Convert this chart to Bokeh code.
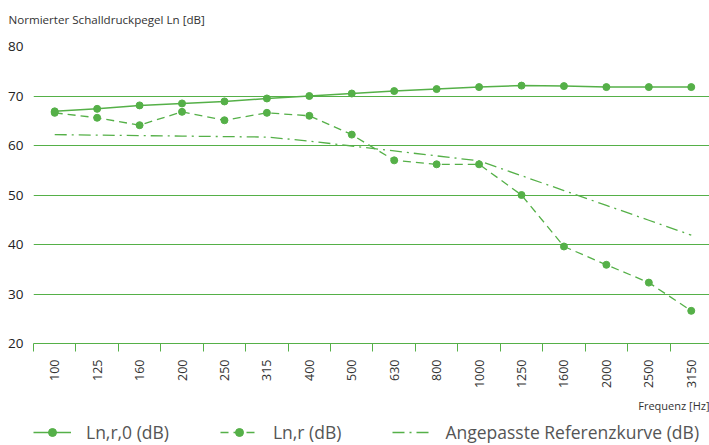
from math import pi
from bokeh.plotting import figure
from bokeh.layouts import column
from bokeh.models import Range1d, FixedTicker, Legend, LegendItem, ColumnDataSource, Title
from bokeh.embed import file_html
from bokeh.resources import INLINE

freqs = ["100", "125", "160", "200", "250", "315", "400", "500", "630", "800",
         "1000", "1250", "1600", "2000", "2500", "3150"]
ln_r0 = [66.9, 67.4, 68.1, 68.5, 68.9, 69.5, 70.0, 70.5, 71.0, 71.4, 71.8, 72.1, 72.0, 71.8, 71.8, 71.8]
ln_r = [66.6, 65.6, 64.1, 66.8, 65.1, 66.6, 66.0, 62.2, 57.0, 56.2, 56.2, 50.0, 39.6, 35.9, 32.3, 26.6]
ref_curve = [62.2, 62.1, 62.0, 61.9, 61.8, 61.7, 60.9, 59.9, 58.9, 57.9, 56.9, 53.9, 50.9, 47.9, 44.9, 41.9]
y_ticks = [20, 30, 40, 50, 60, 70, 80]
series_names = ["Ln,r,0 (dB)", "Ln,r (dB)", "Angepasste Referenzkurve (dB)"]
y_title = "Normierter Schalldruckpegel Ln [dB]"
x_title = "Frequenz [Hz]"

GREEN = "#55b048"
TEXT = "#333333"
FONT = "Open Sans"
W = 709
H_TOP = 28
H_LEG = 28
H_MAIN = 445 - H_TOP - H_LEG


def strip(h, top_border=0):
    f = figure(width=W, height=h, output_backend="svg", toolbar_location=None,
               x_range=Range1d(-1000, -999), y_range=Range1d(-1000, -999),
               x_axis_location=None, y_axis_location=None,
               min_border=0, min_border_left=0, min_border_right=0,
               min_border_top=top_border, min_border_bottom=0)
    f.outline_line_color = None
    f.grid.visible = False
    return f


xs = [i + 0.5 for i in range(len(freqs))]
src = ColumnDataSource(dict(x=xs, r0=ln_r0, r=ln_r, ref=ref_curve))

# title strip
top = strip(H_TOP, top_border=26)
top.title.text = y_title
top.title.align = "left"
top.title.offset = -25
top.title.standoff = 0
top.title.vertical_align = "bottom"
top.title.text_font = FONT
top.title.text_font_size = "11.6px"
top.title.text_font_style = "normal"
top.title.text_color = TEXT

p = figure(width=W, height=H_MAIN, output_backend="svg", toolbar_location=None,
           x_range=Range1d(0, 15.93), y_range=Range1d(20, 80),
           min_border_left=33, min_border_right=0, min_border_top=18, min_border_bottom=72)
p.outline_line_color = None
p.background_fill_color = "white"

# axes
xa = p.xaxis[0]
xa.ticker = FixedTicker(ticks=xs, minor_ticks=list(range(len(freqs))))
xa.major_label_overrides = {x: f for x, f in zip(xs, freqs)}
xa.major_label_orientation = pi / 2
xa.major_tick_out = 0
xa.major_tick_in = 0
xa.minor_tick_out = 8
xa.minor_tick_in = 0
xa.minor_tick_line_color = GREEN
xa.axis_line_color = GREEN
xa.major_label_standoff = 8
xa.major_label_text_font = FONT
xa.major_label_text_font_size = "12.5px"
xa.major_label_text_color = TEXT

ya = p.yaxis[0]
ya.ticker = FixedTicker(ticks=y_ticks)
ya.axis_line_color = None
ya.major_tick_line_color = None
ya.minor_tick_line_color = None
ya.major_tick_out = 0
ya.major_label_standoff = 10
ya.major_label_text_font = FONT
ya.major_label_text_font_size = "13.5px"
ya.major_label_text_color = "#222222"

p.xgrid.grid_line_color = None
p.ygrid.grid_line_color = GREEN
p.ygrid.grid_line_width = 1

# series
line_styles = [dict(line_color=GREEN, line_width=1.5),
               dict(line_color=GREEN, line_width=1.3, line_dash="8 5"),
               dict(line_color=GREEN, line_width=1.3, line_dash="12 5 2 5")]
cols = ["r0", "r", "ref"]
for i, c in enumerate(cols):
    p.line("x", c, source=src, **line_styles[i])
    if i < 2:
        p.scatter("x", c, source=src, size=7, fill_color=GREEN, line_color=GREEN)

p.add_layout(Title(text=x_title, align="right", text_font=FONT,
                   text_font_size="11px", text_font_style="normal",
                   text_color=TEXT, standoff=9), "below")

# legend strip (its renderers use the same data, which lies outside this strip's ranges)
lg = strip(H_LEG)
items = []
for i, (name, c) in enumerate(zip(series_names, cols)):
    rs = [lg.line("x", c, source=src, **line_styles[i])]
    if i < 2:
        rs.append(lg.scatter("x", c, source=src, size=5.5, fill_color=GREEN, line_color=GREEN))
    items.append(LegendItem(label=name, renderers=rs))
legend = Legend(items=items, orientation="horizontal", location=(0, 1))
legend.border_line_color = None
legend.background_fill_alpha = 0
legend.padding = 0
legend.margin = 0
legend.spacing = 51
legend.glyph_width = 38
legend.glyph_height = 20
legend.label_height = 20
legend.label_standoff = 15
legend.label_text_font = FONT
legend.label_text_font_size = "17.5px"
legend.label_text_color = "#555555"
lg.add_layout(legend, "center")

open("out.html", "w").write(file_html(column(top, p, lg, spacing=0), INLINE))
